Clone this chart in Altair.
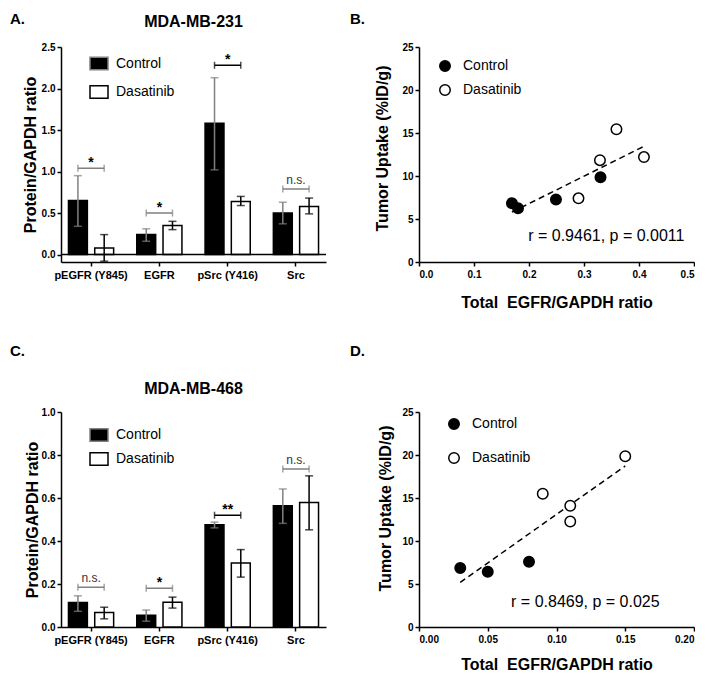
import altair as alt
import pandas as pd

FONT = "Liberation Sans"

categories = ["pEGFR (Y845)", "EGFR", "pSrc (Y416)", "Src"]
groups = ["Control", "Dasatinib"]

# Panel A: MDA-MB-231 protein / GAPDH
a_ctrl_mean = [0.65, 0.24, 1.58, 0.50]
a_ctrl_lo = [0.34, 0.16, 1.02, 0.37]
a_ctrl_hi = [0.95, 0.31, 2.13, 0.63]
a_das_mean = [0.08, 0.35, 0.64, 0.58]
a_das_lo = [-0.08, 0.30, 0.59, 0.49]
a_das_hi = [0.24, 0.40, 0.70, 0.68]
a_sig_text = ["*", "*", "*", "n.s."]
a_sig_y = [1.04, 0.50, 2.28, 0.79]
a_yticks = [0.0, 0.5, 1.0, 1.5, 2.0, 2.5]

# Panel C: MDA-MB-468 protein / GAPDH
c_ctrl_mean = [0.114, 0.055, 0.476, 0.564]
c_ctrl_lo = [0.073, 0.027, 0.461, 0.482]
c_ctrl_hi = [0.145, 0.079, 0.488, 0.642]
c_das_mean = [0.068, 0.115, 0.298, 0.579]
c_das_lo = [0.038, 0.088, 0.232, 0.452]
c_das_hi = [0.092, 0.139, 0.360, 0.703]
c_sig_text = ["n.s.", "*", "**", "n.s."]
c_sig_y = [0.185, 0.18, 0.52, 0.735]
c_yticks = [0.0, 0.2, 0.4, 0.6, 0.8, 1.0]

# Panel B: MDA-MB-231 uptake vs EGFR
b_x_ctrl = [0.169, 0.18, 0.249, 0.33]
b_y_ctrl = [6.83, 6.26, 7.28, 9.86]
b_x_das = [0.29, 0.329, 0.359, 0.409]
b_y_das = [7.4, 11.84, 15.44, 12.2]
b_xticks = [0.0, 0.1, 0.2, 0.3, 0.4, 0.5]
b_stat = "r = 0.9461, p = 0.0011"

# Panel D: MDA-MB-468 uptake vs EGFR
d_x_ctrl = [0.030, 0.050, 0.080]
d_y_ctrl = [6.87, 6.42, 7.58]
d_x_das = [0.090, 0.110, 0.110, 0.150]
d_y_das = [15.5, 14.1, 12.27, 19.86]
d_xticks = [0.0, 0.05, 0.10, 0.15, 0.20]
d_stat = "r = 0.8469, p = 0.025"

uptake_ticks = [0, 5, 10, 15, 20, 25]

dummy = pd.DataFrame({"k": [0]})

BAR_W = 265
SC_W = 275
H = 215


def bar_df(cm, cl, ch, dm, dl, dh):
    rows = []
    for i, c in enumerate(categories):
        rows.append(dict(cat=c, group="Control", mean=cm[i], lo=cl[i], hi=ch[i]))
        rows.append(dict(cat=c, group="Dasatinib", mean=dm[i], lo=dl[i], hi=dh[i]))
    return pd.DataFrame(rows)


def sig_frames(texts, ys):
    sig = pd.DataFrame({"cat": categories, "label": texts, "y": ys})
    ends = []
    for i, c in enumerate(categories):
        for g in groups:
            ends.append(dict(cat=c, group=g, y=ys[i]))
    return sig, pd.DataFrame(ends)


def label_text(text, x, y, size, align="left", baseline="top"):
    return alt.Chart(dummy).mark_text(
        align=align, baseline=baseline, font=FONT, fontSize=size, fontWeight="bold",
        color="black"
    ).encode(x=alt.value(x), y=alt.value(y), text=alt.value(text))


def bar_panel(df, sig_texts, sig_ys, title, title_off, ydomain, yticks, letter, letter_y,
              leg_y, leg_pad, title_x, zero_line):
    ytitle = "Protein/GAPDH ratio"
    xenc = alt.X(
        "cat:N", sort=categories,
        scale=alt.Scale(paddingInner=0.3, paddingOuter=0.09),
        axis=alt.Axis(title=None, labelAngle=0, labelFontSize=11, labelPadding=3, tickSize=4),
    )
    xoff = alt.XOffset("group:N", sort=groups,
                       scale=alt.Scale(paddingInner=0.28, paddingOuter=0.05))
    yscale = alt.Scale(domain=ydomain, nice=False, zero=False)
    yaxis = alt.Axis(values=yticks, format=".1f", title=ytitle, titleX=title_x,
                     titleBaseline="alphabetic", labelPadding=2, tickSize=4)

    base = alt.Chart(df)
    bars = base.mark_bar(stroke="black", strokeWidth=1.5).encode(
        x=xenc, xOffset=xoff,
        y=alt.Y("mean:Q", scale=yscale, axis=yaxis, title=ytitle),
        fill=alt.Fill(
            "group:N", sort=groups, title=None,
            scale=alt.Scale(domain=groups, range=["black", "white"]),
            legend=alt.Legend(
                orient="none", legendX=28, legendY=leg_y, direction="vertical",
                symbolType="M-1 -0.7 L1 -0.7 L1 0.7 L-1 0.7 Z", symbolSize=324,
                symbolStrokeColor="black", symbolStrokeWidth=1.5,
                labelFont=FONT, labelFontSize=14, labelFontWeight="normal",
                labelColor="black", labelOffset=7, rowPadding=leg_pad, padding=0,
            ),
        ),
    )
    err_color = alt.Color("group:N", sort=groups,
                          scale=alt.Scale(domain=groups, range=["#808080", "black"]),
                          legend=None)
    stems = base.mark_rule(strokeWidth=1.5).encode(
        x=xenc, xOffset=xoff,
        y=alt.Y("lo:Q", scale=yscale, title=ytitle), y2="hi:Q", color=err_color)
    cap_lo = base.mark_tick(thickness=1.5, size=8, orient="horizontal").encode(
        x=xenc, xOffset=xoff, y=alt.Y("lo:Q", scale=yscale, title=ytitle), color=err_color)
    cap_hi = base.mark_tick(thickness=1.5, size=8, orient="horizontal").encode(
        x=xenc, xOffset=xoff, y=alt.Y("hi:Q", scale=yscale, title=ytitle), color=err_color)

    sig, ends = sig_frames(sig_texts, sig_ys)
    bcolor = alt.condition(alt.datum.cat == "pSrc (Y416)", alt.value("black"), alt.value("#808080"))
    bracket = alt.Chart(sig).mark_bar(
        width=alt.RelativeBandSize(0.55), strokeWidth=1.5, fill="transparent"
    ).encode(x=xenc, y=alt.Y("y:Q", scale=yscale, title=ytitle), y2="y:Q", stroke=bcolor)
    bracket_ends = alt.Chart(ends).mark_tick(thickness=1.5, size=7, orient="vertical").encode(
        x=xenc, xOffset=xoff, y=alt.Y("y:Q", scale=yscale, title=ytitle), color=bcolor)
    stars = alt.Chart(sig).transform_filter(alt.datum.label != "n.s.").mark_text(
        font=FONT, fontSize=14, fontWeight="bold", baseline="alphabetic", dy=-1, color="black"
    ).encode(x=xenc, y=alt.Y("y:Q", scale=yscale, title=ytitle), text="label:N")
    ns = alt.Chart(sig).transform_filter(alt.datum.label == "n.s.").mark_text(
        font=FONT, fontSize=12, baseline="alphabetic", dy=-5, color="#333333"
    ).encode(x=xenc, y=alt.Y("y:Q", scale=yscale, title=ytitle), text="label:N")

    layers = [bars]
    if zero_line:
        layers.append(alt.Chart(dummy).mark_rule(color="black", strokeWidth=1.5).encode(
            y=alt.datum(0)))
    layers += [stems, cap_lo, cap_hi, bracket, bracket_ends, stars, ns,
               label_text(letter, -51, letter_y, 15),
               label_text(title, BAR_W / 2, -title_off, 16, align="center",
                          baseline="alphabetic")]
    return alt.layer(*layers).properties(width=BAR_W, height=H)


def scatter_panel(xc, yc, xd, yd, xdomain, xticks, xfmt, stat, stat_x, stat_y, letter,
                  letter_y, title_x, title_y, xtitle_y, leg_x, leg_y, leg_pad):
    rows = [dict(x=a, y=b, group="Control") for a, b in zip(xc, yc)]
    rows += [dict(x=a, y=b, group="Dasatinib") for a, b in zip(xd, yd)]
    df = pd.DataFrame(rows)
    xs = alt.Scale(domain=xdomain, nice=False, zero=False)
    ys = alt.Scale(domain=[0, 25], nice=False)
    xax = alt.Axis(values=xticks, format=xfmt, title="Total \u00a0EGFR/GAPDH ratio",
                   titleY=xtitle_y, titleBaseline="alphabetic", labelPadding=3, tickSize=4)
    yax = alt.Axis(values=uptake_ticks, title="Tumor Uptake (%ID/g)", titleX=title_x,
                   titleY=title_y, titleBaseline="alphabetic", labelPadding=2, tickSize=4)
    xenc = alt.X("x:Q", scale=xs, axis=xax)
    yenc = alt.Y("y:Q", scale=ys, axis=yax)
    line = alt.Chart(df).transform_regression("x", "y").mark_line(
        color="black", strokeWidth=1.5, strokeDash=[6, 4]).encode(x=xenc, y=yenc)
    pts = alt.Chart(df).mark_point(
        shape="circle", filled=True, stroke="black", strokeWidth=1.5, size=110, opacity=1
    ).encode(
        x=xenc, y=yenc,
        fill=alt.Fill(
            "group:N", sort=groups, title=None,
            scale=alt.Scale(domain=groups, range=["black", "white"]),
            legend=alt.Legend(
                orient="none", legendX=leg_x, legendY=leg_y, direction="vertical",
                symbolType="circle", symbolSize=110,
                symbolStrokeColor="black", symbolStrokeWidth=1.5,
                labelFont=FONT, labelFontSize=14, labelFontWeight="normal",
                labelColor="black", labelOffset=11, rowPadding=leg_pad, padding=0,
            ),
        ),
    )
    txt = alt.Chart(dummy).mark_text(
        font=FONT, fontSize=16, align="center", baseline="alphabetic", color="black"
    ).encode(x=alt.datum(stat_x), y=alt.datum(stat_y), text=alt.value(stat))
    return alt.layer(line, pts, txt, label_text(letter, -69, letter_y, 15)).properties(
        width=SC_W, height=H)


A = bar_panel(bar_df(a_ctrl_mean, a_ctrl_lo, a_ctrl_hi, a_das_mean, a_das_lo, a_das_hi),
              a_sig_text, a_sig_y, "MDA-MB-231", 20, [-0.09, 2.5], a_yticks, "A.", -35,
              6.5, 8.5, -26, True)
C = bar_panel(bar_df(c_ctrl_mean, c_ctrl_lo, c_ctrl_hi, c_das_mean, c_das_lo, c_das_hi),
              c_sig_text, c_sig_y, "MDA-MB-468", 18, [0.0, 1.0], c_yticks, "C.", -68.5,
              13, 4, -24, False)
B = scatter_panel(b_x_ctrl, b_y_ctrl, b_x_das, b_y_das, [0, 0.5], b_xticks, ".1f",
                  b_stat, 0.3406, 2.42, "B.", -35, -32, 101, 45, 19, 12, 6)
D = scatter_panel(d_x_ctrl, d_y_ctrl, d_x_das, d_y_das, [0, 0.2], d_xticks, ".2f",
                  d_stat, 0.121, 2.29, "D.", -68.5, -29, 96, 42, 28, 5, 16)

chart = alt.concat(
    A, B, C, D, columns=2, spacing={"row": 150, "column": 93}, bounds="flush"
).resolve_scale(
    x="independent", y="independent", fill="independent", color="independent",
    xOffset="independent"
).resolve_legend(fill="independent", color="independent").properties(
    padding={"top": 4, "left": 2, "right": 0, "bottom": 0}
).configure_view(strokeWidth=0).configure_axis(
    grid=False, domainColor="black", domainWidth=1.5, tickColor="black", tickWidth=1.5,
    labelFont=FONT, labelFontSize=10, labelFontWeight="bold", labelColor="black",
    titleFont=FONT, titleFontSize=16, titleFontWeight="bold", titleColor="black",
)

chart.save("out.html", embed_options={"renderer": "svg", "actions": False})
